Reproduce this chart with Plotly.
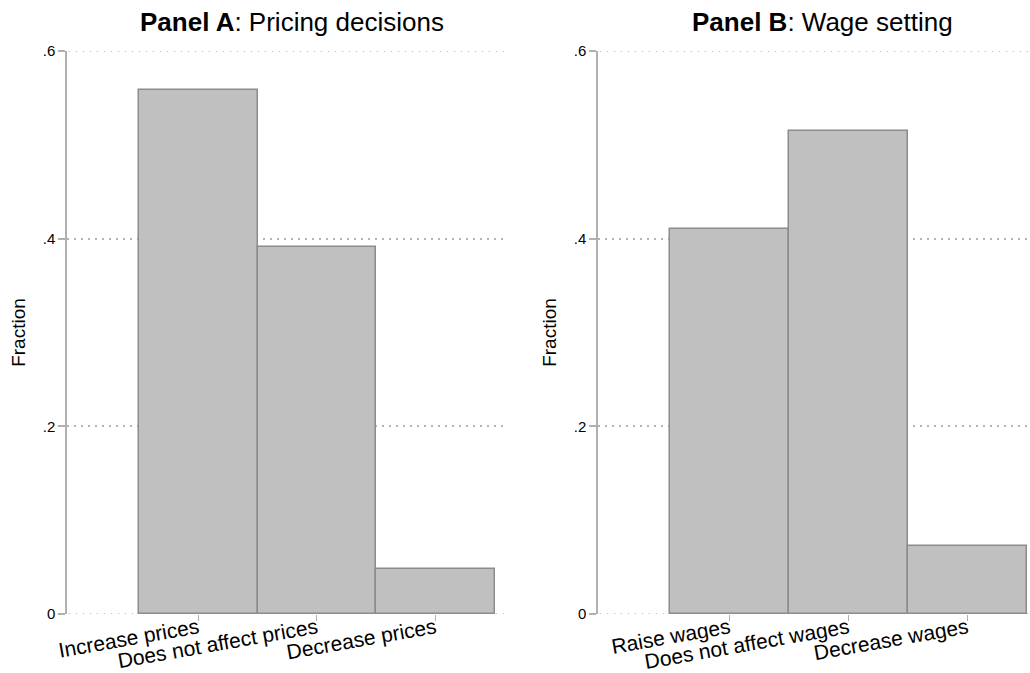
import plotly.graph_objects as go

# Data
cats_a = ["Increase prices", "Does not affect prices", "Decrease prices"]
vals_a = [0.558, 0.391, 0.048]
cats_b = ["Raise wages", "Does not affect wages", "Decrease wages"]
vals_b = [0.410, 0.515, 0.072]
y_tickvals = [0, 0.2, 0.4, 0.6]
y_ticktext = ["0", ".2", ".4", ".6"]

W, H = 1030, 673
FONT = "Liberation Sans, Arial, sans-serif"
BAR_FILL = "#c0c0c0"
BAR_LINE = "#8c8c8c"
AXIS_COL = "#b0b0b0"
GRID_COL = "#b4b4b4"
GRID_DASH = "1.5px,5.5px"

fig = go.Figure()
x_pos = [1, 2, 3]
fig.add_trace(go.Bar(x=x_pos, y=vals_a, width=1, marker=dict(color=BAR_FILL, line=dict(color=BAR_LINE, width=1.5)),
                     xaxis="x", yaxis="y", showlegend=False, hoverinfo="skip"))
fig.add_trace(go.Bar(x=x_pos, y=vals_b, width=1, marker=dict(color=BAR_FILL, line=dict(color=BAR_LINE, width=1.5)),
                     xaxis="x2", yaxis="y2", showlegend=False, hoverinfo="skip"))

def px_x(p):
    return p / W

def px_y(p):
    return 1 - p / H

ydom = [px_y(614), px_y(51)]

xcommon = dict(tickmode="array", tickvals=x_pos, ticks="outside", ticklen=6, tickcolor=AXIS_COL, tickwidth=1,
               showgrid=False, zeroline=False, showline=False, tickangle=-10, ticklabelstandoff=-13,
               tickfont=dict(family=FONT, size=21, color="#000"), automargin=False, fixedrange=True)
ycommon = dict(range=[0, 0.6], tickmode="array", tickvals=y_tickvals, ticktext=y_ticktext, ticks="outside",
               ticklen=7, tickcolor=AXIS_COL, tickwidth=1.5, showline=True, linecolor=AXIS_COL, linewidth=1.5,
               showgrid=True, gridcolor=GRID_COL, gridwidth=1.5, griddash=GRID_DASH, zeroline=False,
               tickfont=dict(family=FONT, size=15, color="#000"), automargin=False, domain=ydom, fixedrange=True,
               title=dict(text="Fraction", font=dict(family=FONT, size=19, color="#000"), standoff=12))

# dotted gridlines at the range ends (plotly omits them), drawn below the bars
shapes = []
for xr, yr in (("x", "y"), ("x2", "y2")):
    for v in (y_tickvals[0], y_tickvals[-1]):
        shapes.append(dict(type="line", xref=xr + " domain", yref=yr, x0=0.004, x1=1, y0=v, y1=v, layer="below",
                           line=dict(color=GRID_COL, width=1.5, dash=GRID_DASH)))

fig.update_layout(
    width=W, height=H, margin=dict(l=0, r=0, t=0, b=0),
    plot_bgcolor="white", paper_bgcolor="white", bargap=0,
    xaxis=dict(domain=[px_x(67), px_x(508)], range=[-0.107, 3.61], ticktext=cats_a, anchor="y", **xcommon),
    yaxis=dict(anchor="x", **ycommon),
    xaxis2=dict(domain=[px_x(598), px_x(1029)], range=[-0.105, 3.517], ticktext=cats_b, anchor="y2", **xcommon),
    yaxis2=dict(anchor="x2", **ycommon),
    shapes=shapes,
    annotations=[
        dict(text="<b>Panel A</b>: Pricing decisions", x=px_x(292), y=px_y(22), xref="paper", yref="paper",
             xanchor="center", yanchor="middle", showarrow=False, font=dict(family=FONT, size=26, color="#000")),
        dict(text="<b>Panel B</b>: Wage setting", x=px_x(822), y=px_y(22), xref="paper", yref="paper",
             xanchor="center", yanchor="middle", showarrow=False, font=dict(family=FONT, size=26, color="#000")),
    ],
)

fig.write_html("out.html", config={"displayModeBar": False},
               post_script="document.body.style.margin='0';document.body.style.overflow='hidden';")
